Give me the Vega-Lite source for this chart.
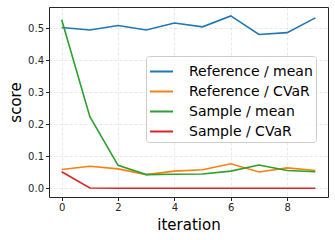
{
  "$schema": "https://vega.github.io/schema/vega-lite/v6.json",
  "width": 279,
  "height": 190,
  "autosize": {"type": "none"},
  "padding": {"left": 49, "top": 7, "right": 7, "bottom": 43},
  "background": "white",
  "data": {
    "values": [
      {"iteration": 0, "score": 0.503, "series": "Reference / mean"},
      {"iteration": 1, "score": 0.495, "series": "Reference / mean"},
      {"iteration": 2, "score": 0.509, "series": "Reference / mean"},
      {"iteration": 3, "score": 0.495, "series": "Reference / mean"},
      {"iteration": 4, "score": 0.517, "series": "Reference / mean"},
      {"iteration": 5, "score": 0.505, "series": "Reference / mean"},
      {"iteration": 6, "score": 0.539, "series": "Reference / mean"},
      {"iteration": 7, "score": 0.481, "series": "Reference / mean"},
      {"iteration": 8, "score": 0.487, "series": "Reference / mean"},
      {"iteration": 9, "score": 0.533, "series": "Reference / mean"},
      {"iteration": 0, "score": 0.059, "series": "Reference / CVaR"},
      {"iteration": 1, "score": 0.069, "series": "Reference / CVaR"},
      {"iteration": 2, "score": 0.061, "series": "Reference / CVaR"},
      {"iteration": 3, "score": 0.043, "series": "Reference / CVaR"},
      {"iteration": 4, "score": 0.054, "series": "Reference / CVaR"},
      {"iteration": 5, "score": 0.058, "series": "Reference / CVaR"},
      {"iteration": 6, "score": 0.077, "series": "Reference / CVaR"},
      {"iteration": 7, "score": 0.051, "series": "Reference / CVaR"},
      {"iteration": 8, "score": 0.064, "series": "Reference / CVaR"},
      {"iteration": 9, "score": 0.056, "series": "Reference / CVaR"},
      {"iteration": 0, "score": 0.527, "series": "Sample / mean"},
      {"iteration": 1, "score": 0.224, "series": "Sample / mean"},
      {"iteration": 2, "score": 0.072, "series": "Sample / mean"},
      {"iteration": 3, "score": 0.043, "series": "Sample / mean"},
      {"iteration": 4, "score": 0.044, "series": "Sample / mean"},
      {"iteration": 5, "score": 0.045, "series": "Sample / mean"},
      {"iteration": 6, "score": 0.054, "series": "Sample / mean"},
      {"iteration": 7, "score": 0.073, "series": "Sample / mean"},
      {"iteration": 8, "score": 0.056, "series": "Sample / mean"},
      {"iteration": 9, "score": 0.052, "series": "Sample / mean"},
      {"iteration": 0, "score": 0.052, "series": "Sample / CVaR"},
      {"iteration": 1, "score": 0.001, "series": "Sample / CVaR"},
      {"iteration": 2, "score": 0.0005, "series": "Sample / CVaR"},
      {"iteration": 3, "score": 0.0005, "series": "Sample / CVaR"},
      {"iteration": 4, "score": 0.0005, "series": "Sample / CVaR"},
      {"iteration": 5, "score": 0.0005, "series": "Sample / CVaR"},
      {"iteration": 6, "score": 0.0005, "series": "Sample / CVaR"},
      {"iteration": 7, "score": 0.0005, "series": "Sample / CVaR"},
      {"iteration": 8, "score": 0.0005, "series": "Sample / CVaR"},
      {"iteration": 9, "score": 0.0005, "series": "Sample / CVaR"}
    ]
  },
  "mark": {"type": "line", "strokeWidth": 1.6, "clip": true},
  "encoding": {
    "x": {
      "field": "iteration",
      "type": "quantitative",
      "scale": {"domain": [-0.45, 9.45], "nice": false, "zero": false},
      "axis": {"values": [0, 2, 4, 6, 8], "format": "d", "title": "iteration", "titlePadding": 5}
    },
    "y": {
      "field": "score",
      "type": "quantitative",
      "scale": {"domain": [-0.027, 0.567], "nice": false, "zero": false},
      "axis": {"values": [0, 0.1, 0.2, 0.3, 0.4, 0.5], "format": ".1f", "title": "score"}
    },
    "color": {
      "field": "series",
      "type": "nominal",
      "scale": {
        "domain": ["Reference / mean", "Reference / CVaR", "Sample / mean", "Sample / CVaR"],
        "range": ["#1f77b4", "#ff7f0e", "#2ca02c", "#d62728"]
      },
      "legend": {
        "title": null,
        "orient": "none",
        "legendX": 97,
        "legendY": 49,
        "symbolType": "stroke",
        "symbolSize": 529,
        "symbolStrokeWidth": 2,
        "labelFontSize": 14,
        "labelFont": "DejaVu Sans",
        "labelColor": "#000000",
        "labelOffset": 15,
        "rowPadding": -1,
        "padding": 3,
        "fillColor": "rgba(255,255,255,0.8)",
        "strokeColor": "#cccccc",
        "cornerRadius": 3
      }
    }
  },
  "config": {
    "font": "DejaVu Sans",
    "view": {"stroke": "#262626", "strokeWidth": 1},
    "axis": {
      "labelFont": "DejaVu Sans",
      "labelFontSize": 10,
      "labelColor": "#262626",
      "titleFont": "DejaVu Sans",
      "titleFontSize": 15,
      "titleFontWeight": "normal",
      "titleColor": "#000000",
      "domain": false,
      "tickColor": "#262626",
      "tickSize": 3.5,
      "labelPadding": 2,
      "grid": true,
      "gridColor": "#b0b0b0",
      "gridOpacity": 0.35,
      "gridDash": [3, 2],
      "gridWidth": 0.8
    }
  }
}
